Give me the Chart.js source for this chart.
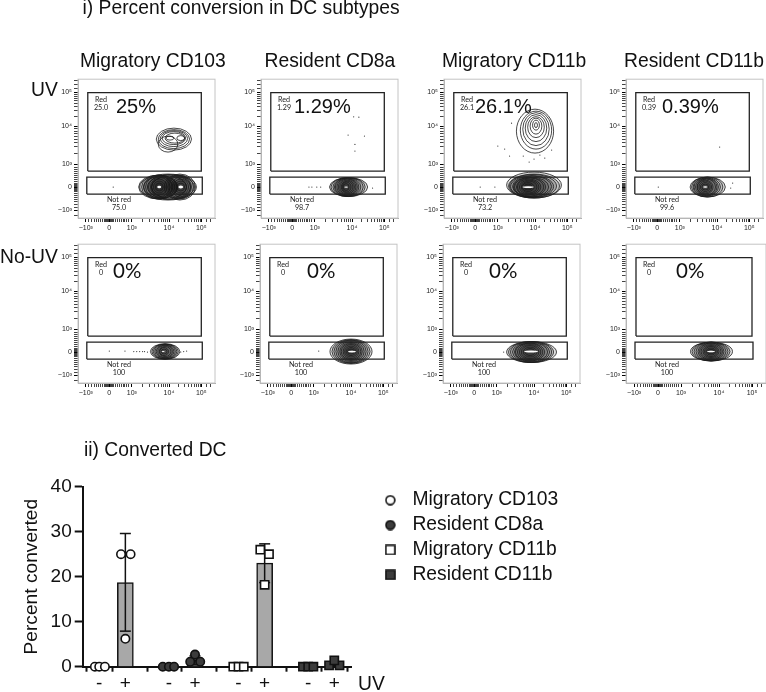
<!DOCTYPE html>
<html>
<head>
<meta charset="utf-8">
<title>Percent conversion in DC subtypes</title>
<script src="https://cdn.jsdelivr.net/npm/chart.js@4/dist/chart.umd.js"></script>
<style>
html, body { margin: 0; background: #fff; overflow: hidden; }
#page { position: relative; width: 766px; height: 692px; overflow: hidden; font-family: "Liberation Sans", Arial, sans-serif; color: #111; filter: blur(0.3px); }
canvas { position: absolute; }
.t { position: absolute; white-space: nowrap; line-height: 1; transform: translateY(-50%); }
.head { font-size: 19.3px; }
.big { font-size: 20px; }
.zero { font-size: 20.5px; font-family: Lato, sans-serif; }
.small { font-size: 7.2px; font-family: Lato, sans-serif; transform: translate(-50%, -50%); color: #222; }
</style>
</head>
<body>
<div id="page"></div>
<script>
// flow axes, in display channels of the 140x139 plot
var xMajor = [8, 32, 55, 93, 126];
var yMajor = [8, 31, 54, 92, 126];
var xMajorLabels = ['\u221210\u00b3', '0', '10\u00b3', '10\u2074', '10\u2075'];
var yMajorLabels = ['\u221210\u00b3', '0', '10\u00b3', '10\u2074', '10\u2075'];
var xMinor = [11, 14, 17, 19, 21, 23, 25, 27, 28, 29, 30, 31, 33, 34, 35, 36, 38, 40, 42, 44, 46, 48, 50, 52, 66, 73, 78, 82, 85, 87, 89, 91, 103, 109, 113, 116, 119, 121, 123, 125, 131, 135];
var yMinor = [3, 11, 14, 17, 19, 21, 23, 25, 27, 28, 29, 30, 32, 33, 34, 35, 37, 39, 41, 43, 45, 47, 49, 51, 65, 72, 76, 79, 82, 85, 87, 90, 102, 108, 112, 115, 118, 120, 122, 124, 130, 134, 138];

var upperGateX = [10, 126, 126, 10, 10];
var upperGateY = [47, 47, 125.5, 125.5, 47];
var lowerGateX = [9, 127, 127, 9, 9];
var lowerGateY = [24, 24, 41, 41, 24];

// contour rings: centre x, centre y, half width, half height
var cd103UvRings = [[98, 79, 18, 11], [92, 74, 10, 8], [98, 79, 16, 9.5], [98, 79.5, 14, 8], [98, 80, 12, 6.5], [99, 80, 10, 5], [94, 80, 4, 2], [105, 80, 4, 2.5],
  [92, 31, 29, 13], [93, 31, 26, 12.5], [93, 31, 22, 12], [93, 31, 18, 11],
  [82, 31, 20, 12], [83, 31, 18, 12], [83, 31, 16, 11.5], [83, 31, 14, 11], [84, 31, 12, 10.5], [84, 31, 10, 9.5], [83, 31, 8, 8], [83, 31, 6, 6], [83, 31, 4, 4],
  [104, 31, 16, 13], [104, 31, 14, 12], [104, 31, 12, 11], [105, 31, 10, 10], [105, 31, 8, 8], [105, 31, 6, 6], [105, 31, 4, 4]];
var cd103UvHot = [[83, 31, 2, 1.2], [105, 31, 2.5, 1.5]];
var cd103UvDotsX = [36];
var cd103UvDotsY = [31];

var res8aUvRings = [[89.5, 31, 19.5, 9.5], [89, 31, 17.5, 9.5], [89, 31, 15.5, 9.5], [88.5, 31, 13.5, 9.3], [88, 31, 12, 9], [88, 31, 10.5, 8.5], [88, 31, 9, 8], [88, 31, 7.5, 7], [88, 31, 6, 6], [87.5, 31, 4.5, 5], [87, 31, 3, 3.5]];
var res8aUvHot = [[87, 31, 2, 0.6]];
var res8aUvDotsX = [94.7, 100, 89, 105.7, 96, 96, 49, 52, 57, 61, 114];
var res8aUvDotsY = [101.3, 101, 83, 82, 73.7, 67, 31, 31, 31, 31, 30];

var mig11bUvRings = [[93, 87, 19, 22], [94, 88, 16, 19], [94, 89, 13.5, 16.5], [94, 90, 11, 13.5], [94, 91, 8.5, 10.5], [94, 92, 6, 8], [94, 93, 3.5, 5], [94, 93, 1.5, 2.5],
  [92, 33, 28, 13], [92, 32, 26, 12], [91, 32, 24, 11.5], [90, 31.5, 22, 11], [90, 31.5, 20, 10.5], [89, 31, 18, 10], [88, 31, 16, 9.5], [88, 31, 14, 9], [87, 31, 12, 8], [87, 31, 10, 7], [87, 31, 8, 6], [86, 31, 6, 4.5], [86, 31, 4, 3]];
var mig11bUvHot = [[86, 31, 6, 0.9]];
var mig11bUvDotsX = [55, 62, 67, 81, 69, 87, 92, 98, 103, 110, 37, 52];
var mig11bUvDotsY = [72, 69, 62, 62, 95, 56, 59, 63, 60, 68, 31, 31];

var res11bUvRings = [[83.5, 31, 18, 10], [83, 31, 16, 10], [82.5, 31, 14, 9.5], [82, 31, 12.5, 9], [82, 31, 11, 8.5], [82, 31, 9.5, 8], [81, 31, 8, 7], [81, 31, 6.5, 6], [81, 31, 5, 4.5], [81, 31, 3.5, 3]];
var res11bUvHot = [[81, 31, 2.2, 0.8]];
var res11bUvDotsX = [33, 109, 107, 95.7];
var res11bUvDotsY = [31, 35, 30, 71];

var cd103NoRings = [[89, 31.5, 15, 7.8], [89, 31.5, 13.5, 7.6], [89, 31.5, 12, 7.4], [89, 31.5, 10.5, 7], [89, 31.5, 9, 6.5], [89, 31.5, 7.5, 6], [89, 31.5, 6, 5], [88, 31.5, 4.5, 4], [88, 31.5, 3, 2.5]];
var cd103NoHot = [[87, 31.5, 1.5, 0.5]];
var cd103NoDotsX = [32, 48, 57, 60, 63, 66, 68, 71, 105, 108, 111];
var cd103NoDotsY = [32, 32, 31.5, 31.5, 31.5, 31.5, 31.5, 31, 31, 31.5, 32];

var res8aNoRings = [[93, 31.5, 21.5, 12.5], [93, 31.5, 19.5, 12], [93, 31.5, 17.5, 11.5], [93, 31.5, 15.5, 11], [93, 31.5, 13.5, 10], [93, 31.5, 11.5, 9], [93, 31.5, 10, 8], [93, 31.5, 8, 7], [93, 31.5, 6.5, 5.5], [93, 31.5, 5, 4], [93, 31.5, 3.5, 2.5]];
var res8aNoHot = [[94, 31.5, 4, 0.9]];
var res8aNoDotsX = [60];
var res8aNoDotsY = [32];

var mig11bNoRings = [[90.5, 31, 25.5, 10.5], [90, 31, 23, 10.5], [90, 31, 21, 10.5], [90, 31, 19, 10], [90, 31, 17, 9.5], [89, 31, 15, 9], [89, 31, 13, 8.5], [89, 31, 11, 7.5], [89, 31, 9, 6.5], [89, 31, 7, 5], [89, 31, 5, 3.5]];
var mig11bNoHot = [[90, 31.5, 7, 1]];
var mig11bNoDotsX = [62];
var mig11bNoDotsY = [31];

var res11bNoRings = [[85.5, 31.5, 21, 9.5], [85, 31.5, 19, 9.5], [85, 31.5, 17, 9.3], [85, 31.5, 15, 9], [85, 31.5, 13, 8.5], [85, 31.5, 11.5, 8], [85, 31.5, 10, 7], [85, 31.5, 8, 6], [85, 31.5, 6.5, 5], [85, 31.5, 5, 3.5], [85, 31.5, 3.5, 2.2]];
var res11bNoHot = [[85, 31.5, 4, 0.7]];
var res11bNoDotsX = [];
var res11bNoDotsY = [];

var panelTitles = ['Migratory CD103', 'Resident CD8a', 'Migratory CD11b', 'Resident CD11b'];
var uvPercent = ['25%', '1.29%', '26.1%', '0.39%'];
var uvRed = ['25.0', '1.29', '26.1', '0.39'];
var uvNotRed = ['75.0', '98.7', '73.2', '99.6'];
var noUvPercent = ['0%', '0%', '0%', '0%'];
var noUvRed = ['0', '0', '0', '0'];
var noUvNotRed = ['100', '100', '100', '100'];

// bar chart
var tickSlots = [0, 3, 8, 11, 16, 19, 24, 27];
var tickMarks = ['-', '+', '-', '+', '-', '+', '-', '+'];
var barMeans = [0, 18.7, 0, 1.4, 0, 23, 0, 0.4];
var errLow = [7.9, 0.4, 18.7, 0.1];
var errHigh = [29.6, 2.4, 27.3, 0.8];
var errSlots = [3, 11, 19, 27];
var seriesNames = ['Migratory CD103', 'Resident CD8a', 'Migratory CD11b', 'Resident CD11b'];
var cd103X = [-0.5, 0, 0.65, 2.5, 3.6, 3];
var cd103Y = [0, 0, 0, 25, 25, 6.2];
var res8aX = [7.3, 8, 8.6, 10.45, 11.6, 11];
var res8aY = [0, 0, 0, 1.1, 1.1, 2.7];
var mig11bX = [15.4, 16, 16.6, 18.5, 19.5, 19];
var mig11bY = [0, 0, 0, 26, 25, 18.2];
var res11bX = [23.4, 24, 24.6, 26.4, 27.6, 27];
var res11bY = [0, 0, 0, 0.3, 0.3, 1.4];

var page = document.getElementById('page');
Chart.defaults.font.family = '"Liberation Sans", Arial, sans-serif';
Chart.defaults.animation = false;
Chart.defaults.responsive = false;

function pts(xs, ys) {
  return xs.map(function (x, i) { return { x: x, y: ys[i] }; });
}

function addText(text, left, top, cls) {
  var el = document.createElement('div');
  el.className = 't ' + cls;
  el.textContent = text;
  el.style.left = left + 'px';
  el.style.top = top + 'px';
  page.appendChild(el);
}

function addCanvas(left, top, w, h) {
  var c = document.createElement('canvas');
  c.width = w;
  c.height = h;
  c.style.left = left + 'px';
  c.style.top = top + 'px';
  page.appendChild(c);
  return c;
}

function flowScale(major, majorLabels, minor, maxVal, fit) {
  return {
    type: 'linear', min: 0, max: maxVal,
    afterBuildTicks: function (s) {
      s.ticks = major.concat(minor).sort(function (a, b) { return a - b; }).map(function (v) { return { value: v }; });
    },
    afterFit: fit,
    ticks: {
      autoSkip: false, maxRotation: 0, padding: 2, color: '#222',
      font: { size: 7 },
      callback: function (v) {
        var i = major.indexOf(v);
        return i < 0 ? '' : majorLabels[i];
      }
    },
    grid: {
      drawOnChartArea: false, tickLength: 4, lineWidth: 1,
      tickColor: function (c) { return major.indexOf(c.tick.value) < 0 ? '#444' : '#000'; }
    },
    border: { color: '#a8a8a8', width: 1 }
  };
}

var ringPlugin = {
  id: 'rings',
  beforeDatasetsDraw: function (chart, args, o) {
    var c = chart.ctx, a = chart.chartArea, sx = chart.scales.x, sy = chart.scales.y;
    c.save();
    c.strokeStyle = '#c4c4c4';
    c.lineWidth = 1;
    c.strokeRect(a.left, a.top, a.width, a.height);
    function ell(r) {
      var x = sx.getPixelForValue(r[0]), y = sy.getPixelForValue(r[1]);
      c.beginPath();
      c.ellipse(x, y, Math.abs(sx.getPixelForValue(r[0] + r[2]) - x), Math.abs(sy.getPixelForValue(r[1] + r[3]) - y), 0, 0, 2 * Math.PI);
    }
    c.strokeStyle = '#1c1c1c';
    c.lineWidth = 0.8;
    o.list.forEach(function (r) {
      ell(r);
      // the band population is so dense its contours merge to near black
      if (r[1] < 50) { c.fillStyle = 'rgba(0,0,0,0.13)'; c.fill(); }
      c.stroke();
    });
    c.fillStyle = '#fff';
    o.hot.forEach(function (r) { ell(r); c.fill(); });
    c.restore();
  }
};

function flowPanel(frameLeft, frameTop, rings, hot, dotsX, dotsY) {
  var canvas = addCanvas(frameLeft - 46, frameTop - 6, 187, 169);
  var gate = { type: 'scatter', showLine: true, borderColor: '#222', borderWidth: 1.3, pointRadius: 0, fill: false };
  new Chart(canvas, {
    type: 'scatter',
    data: {
      datasets: [
        Object.assign({ data: pts(upperGateX, upperGateY) }, gate),
        Object.assign({ data: pts(lowerGateX, lowerGateY) }, gate),
        { data: pts(dotsX, dotsY), pointRadius: 0.6, borderWidth: 0, backgroundColor: '#333' }
      ]
    },
    options: {
      layout: { padding: { top: 6, right: 1 } },
      plugins: { legend: { display: false }, tooltip: { enabled: false }, rings: { list: rings, hot: hot } },
      scales: {
        x: flowScale(xMajor, xMajorLabels, xMinor, 140, function (s) { s.height = 24; }),
        y: flowScale(yMajor, yMajorLabels, yMinor, 139, function (s) { s.width = 46; })
      }
    },
    plugins: [ringPlugin]
  });
}

var colLeft = [78, 261, 444, 626];
var colLeft2 = [78, 260, 443, 626];
var bigLeft = [38, 33, 31, 36];
var zeroLeft = [35, 47, 46, 50];
var uvRings = [cd103UvRings, res8aUvRings, mig11bUvRings, res11bUvRings];
var uvHot = [cd103UvHot, res8aUvHot, mig11bUvHot, res11bUvHot];
var uvDotsX = [cd103UvDotsX, res8aUvDotsX, mig11bUvDotsX, res11bUvDotsX];
var uvDotsY = [cd103UvDotsY, res8aUvDotsY, mig11bUvDotsY, res11bUvDotsY];
var noRings = [cd103NoRings, res8aNoRings, mig11bNoRings, res11bNoRings];
var noHot = [cd103NoHot, res8aNoHot, mig11bNoHot, res11bNoHot];
var noDotsX = [cd103NoDotsX, res8aNoDotsX, mig11bNoDotsX, res11bNoDotsX];
var noDotsY = [cd103NoDotsY, res8aNoDotsY, mig11bNoDotsY, res11bNoDotsY];
var titleLeft = [80, 264.5, 442, 624];

colLeft.forEach(function (left, i) {
  flowPanel(left, 79, uvRings[i], uvHot[i], uvDotsX[i], uvDotsY[i]);
  flowPanel(colLeft2[i], 244, noRings[i], noHot[i], noDotsX[i], noDotsY[i]);
  addText(panelTitles[i], titleLeft[i], 61, 'head');
  addText(uvPercent[i], left + bigLeft[i], 106, 'big');
  addText('Red', left + 23, 100, 'small');
  addText(uvRed[i], left + 23, 107.5, 'small');
  addText('Not red', left + 41, 200, 'small');
  addText(uvNotRed[i], left + 41, 208, 'small');
  addText(noUvPercent[i], colLeft2[i] + zeroLeft[i], 269.5, 'zero');
  addText('Red', colLeft2[i] + 23, 264.5, 'small');
  addText(noUvRed[i], colLeft2[i] + 23, 272.5, 'small');
  addText('Not red', colLeft2[i] + 41, 364.5, 'small');
  addText(noUvNotRed[i], colLeft2[i] + 41, 372.5, 'small');
});
addText('i) Percent conversion in DC subtypes', 82.5, 8, 'head');
addText('UV', 31, 90, 'head');
addText('No-UV', 0, 257, 'head');
addText('ii) Converted DC', 84, 450, 'head');
addText('UV', 358, 684, 'head');

// legend marks are small canvases so circle and square come out the same size
function legendMark(square, fill) {
  var m = document.createElement('canvas');
  m.width = 11;
  m.height = 11;
  var c = m.getContext('2d');
  c.fillStyle = fill;
  c.strokeStyle = '#111';
  c.lineWidth = 1.6;
  c.beginPath();
  if (square) c.rect(1, 1, 9, 9); else c.arc(5.5, 5.5, 4.4, 0, 2 * Math.PI);
  c.fill();
  c.stroke();
  return m;
}
var legendMarks = [legendMark(false, '#fff'), legendMark(false, '#3c3c3c'), legendMark(true, '#fff'), legendMark(true, '#3c3c3c')];

var moveLegend = {
  id: 'moveLegend',
  beforeDraw: function (chart) {
    chart.legend.left = 372.2;
    chart.legend.right = 766;
    chart.legend.top = 14.9;
    chart.legend.bottom = 222;
  }
};

function pointSet(name, xs, ys, style, fill, radius) {
  return { type: 'scatter', label: name, data: pts(xs, ys), pointStyle: style, pointRadius: radius, backgroundColor: fill, borderColor: '#111', pointBorderWidth: 1.6, borderWidth: 1.6, clip: false, order: 1 };
}
var errSets = errSlots.map(function (slot, i) {
  return {
    type: 'scatter', showLine: true, data: [{ x: slot, y: errLow[i] }, { x: slot, y: errHigh[i] }],
    borderColor: '#111', borderWidth: 1.5, pointStyle: 'line', pointRadius: 5.5, pointBorderWidth: 1.5, pointBorderColor: '#111', clip: false, order: 2
  };
});

new Chart(addCanvas(0, 470, 766, 222), {
  type: 'bar',
  data: {
    datasets: [
      { type: 'bar', data: pts(tickSlots, barMeans), backgroundColor: '#a8a8a8', borderColor: '#111', borderWidth: 1.5, barThickness: 16, order: 3 }
    ].concat(errSets, [
      pointSet(seriesNames[0], cd103X, cd103Y, 'circle', '#fff', 4.2),
      pointSet(seriesNames[1], res8aX, res8aY, 'circle', '#3c3c3c', 4.2),
      pointSet(seriesNames[2], mig11bX, mig11bY, 'rect', '#fff', 5.8),
      pointSet(seriesNames[3], res11bX, res11bY, 'rect', '#3c3c3c', 5.8)
    ])
  },
  options: {
    layout: { padding: { top: 16.7, right: 414.3 } },
    plugins: {
      tooltip: { enabled: false },
      legend: {
        position: 'chartArea', align: 'start',
        labels: {
          color: '#111', font: { size: 19.3 }, padding: 5.6,
          usePointStyle: true, pointStyleWidth: 25, boxHeight: 11,
          generateLabels: function (chart) {
            return Chart.defaults.plugins.legend.labels.generateLabels(chart)
              .filter(function (item) { return item.text; })
              .map(function (item, i) { item.pointStyle = legendMarks[i]; return item; });
          }
        }
      }
    },
    scales: {
      x: {
        type: 'linear', min: -1.9, max: 29, offset: false,
        afterBuildTicks: function (s) { s.ticks = tickSlots.map(function (v) { return { value: v }; }); },
        afterFit: function (s) { s.height = 25.3; },
        ticks: {
          autoSkip: false, maxRotation: 0, padding: 1, color: '#111', font: { size: 19 },
          callback: function (v) { return tickMarks[tickSlots.indexOf(v)]; }
        },
        grid: { drawOnChartArea: false, tickLength: 5, tickWidth: 2, tickColor: '#111' },
        border: { color: '#111', width: 2 }
      },
      y: {
        min: 0, max: 40,
        afterFit: function (s) { s.width = 82.7; },
        title: { display: true, text: 'Percent converted', color: '#111', font: { size: 19.2 }, padding: { top: 20.5, bottom: 0 } },
        ticks: { stepSize: 10, padding: 3, color: '#111', font: { size: 19 } },
        grid: { drawOnChartArea: false, tickLength: 8, tickWidth: 2, tickColor: '#111' },
        border: { color: '#111', width: 2 }
      }
    }
  },
  plugins: [moveLegend]
});
</script>
</body>
</html>
